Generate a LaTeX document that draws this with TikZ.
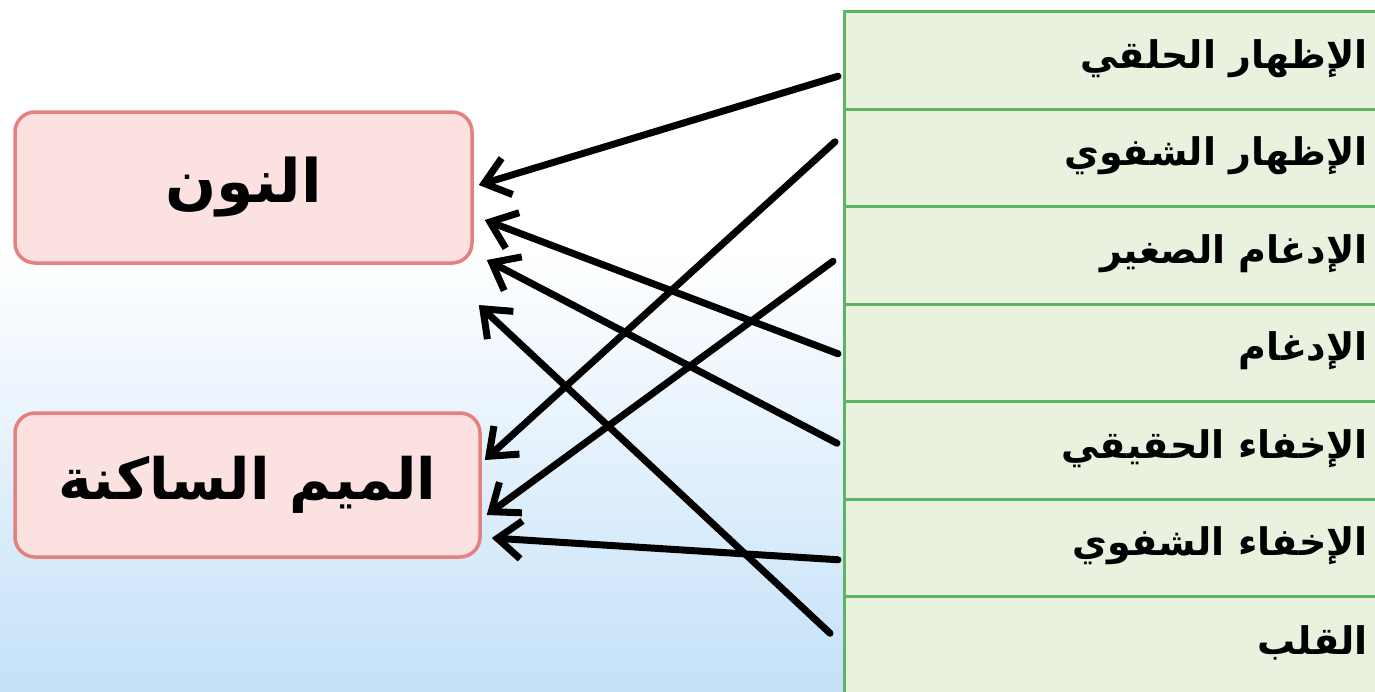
\documentclass[tikz,border=0pt]{standalone}
\usepackage{fontspec}
\newfontfamily\arabicfont[Script=Arabic]{DejaVu Sans}
\TeXXeTstate=1
\usetikzlibrary{%
  arrows.meta,
  calc
}
\definecolor{rowfill}{HTML}{E8F2DF}
\definecolor{rowline}{HTML}{5DB563}
\definecolor{boxfill}{HTML}{FCE1E1}
\definecolor{boxline}{HTML}{E58080}
\definecolor{bgblue}{HTML}{C4E1F8}

\begin{document}
\begin{tikzpicture}[x=1pt, y=-1pt,
    rulebox/.style={draw=boxline, line width=3.5pt, fill=boxfill,
      rounded corners=20pt, inner sep=0pt},
    rowbox/.style={draw=rowline, line width=3pt, fill=rowfill,
      anchor=north west, minimum width=560pt, minimum height=97.5pt},
    rowtext/.style={anchor=east, inner sep=0pt,
      font=\arabicfont\bfseries\fontsize{38}{42}\selectfont},
    link/.style={line width=7pt, line cap=round,
      -{Straight Barb[length=24pt,width=38pt]}}
  ]

  \useasboundingbox (0,0) rectangle (1375,691);
  \clip (0,0) rectangle (1375,691);
  \fill[white] (0,0) rectangle (1375,691);
  \shade[top color=white, bottom color=bgblue] (0,250) rectangle (1375,691);

  % the two letters
  \node[rulebox, minimum width=457pt, minimum height=151pt,
    font=\arabicfont\bfseries\fontsize{60}{68}\selectfont]
    (noon) at (243.5,187.5) {\beginR النون\endR};
  \node[rulebox, minimum width=465pt, minimum height=144pt,
    font=\arabicfont\bfseries\fontsize{57}{64}\selectfont]
    (meem) at (247.5,485) {\beginR الميم الساكنة\endR};

  % the rules
  \foreach \i/\txt in {1/الإظهار الحلقي,
                       2/الإظهار الشفوي,
                       3/الإدغام الصغير,
                       4/الإدغام,
                       5/الإخفاء الحقيقي,
                       6/الإخفاء الشفوي,
                       7/القلب} {
    \node[rowbox] (r\i) at (843,{10+97.5*(\i-1)}) {};
    \node[rowtext] (t\i) at ([shift={(-38,-2)}]r\i.east) {\beginR\txt\endR};
  }

  \draw[link] ([shift={(-5,16)}]r1.west) -- ([shift={(5,-2.5)}]noon.east);
  \draw[link] ([shift={(-8,-16)}]r2.west) -- ([shift={(3,-25)}]meem.east);
  \draw[link] ([shift={(-10,6)}]r3.west) -- ([shift={(5,30)}]meem.east);
  \draw[link] ([shift={(-5,1)}]r4.west) -- ([shift={(11,32.5)}]noon.east);
  \draw[link] ([shift={(-6,-7)}]r5.west) -- ([shift={(13,72.5)}]noon.east);
  \draw[link] ([shift={(-5,12)}]r6.west) -- ([shift={(10,53)}]meem.east);
  \draw[link] ([shift={(-13,-12)}]r7.west) -- ([shift={(5,117.5)}]noon.east);
\end{tikzpicture}
\end{document}
